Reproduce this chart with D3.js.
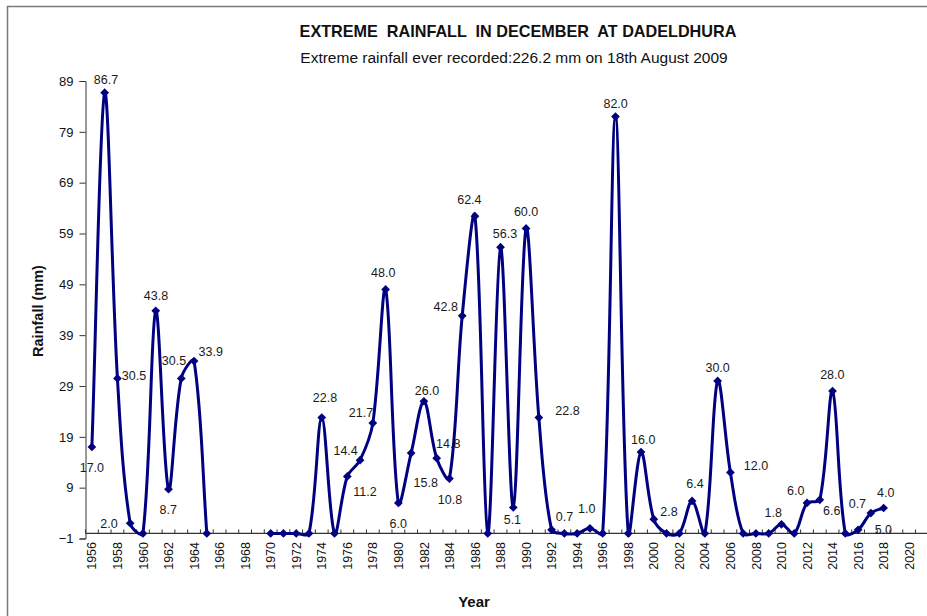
<!DOCTYPE html>
<html>
<head>
<meta charset="utf-8">
<script src="https://cdn.jsdelivr.net/npm/d3@7"></script>
<style>
  html, body { margin: 0; padding: 0; background: #fff; }
  svg { display: block; }
  text { font-family: "Liberation Sans", Arial, sans-serif; }
</style>
</head>
<body>
<svg id="chart" width="927" height="616"></svg>
<script>
// ---------- DATA ----------
const years = d3.range(1956, 2022); // category axis 1956..2021
const dataYears = d3.range(1956, 2019);
const rainfall = [
  17.0, 86.7, 30.5, 2.0, 0, 43.8, 8.7, 30.5, 33.9, 0,      // 1956-1965
  null, null, null, null,                                   // 1966-1969
  0, 0, 0, 0, 22.8, 0, 11.2, 14.4, 21.7, 48.0,              // 1970-1979
  6.0, 15.8, 26.0, 14.8, 10.8, 42.8, 62.4, 0, 56.3, 5.1,    // 1980-1989
  60.0, 22.8, 0.7, 0, 0, 1.0, 0, 82.0, 0, 16.0,             // 1990-1999
  2.8, 0, 0, 6.4, 0, 30.0, 12.0, 0, 0, 0,                   // 2000-2009
  1.8, 0, 6.0, 6.6, 28.0, 0, 0.7, 4.0, 5.0                  // 2010-2018
];
const yTicks = [-1, 9, 19, 29, 39, 49, 59, 69, 79, 89];
const xTickLabels = d3.range(1956, 2021, 2);
const titleText = "EXTREME  RAINFALL  IN DECEMBER  AT DADELDHURA";
const subtitleText = "Extreme rainfall ever recorded:226.2 mm on 18th August 2009";

// label placement offsets (style only): [dx, dy] relative to point
const labelOffsets = {
  1956:[0,20.7],1957:[1.3,-13.4],1958:[16.6,-2.7],1959:[-21.2,0.8],1961:[0.2,-15.1],
  1962:[-0.2,20.8],1963:[-7.3,-17.7],1964:[16.7,-9.4],1974:[3.2,-20.2],1976:[17.7,15.2],
  1977:[-14.4,-9.5],1978:[-11.8,-10.8],1979:[-2.3,-17.1],1980:[-0.1,20.4],1981:[14.6,29.2],
  1982:[3.1,-10.5],1983:[11.6,-14.9],1984:[0.6,20.8],1985:[-16.5,-9.1],1986:[-5.6,-16.2],
  1988:[4.5,-13.2],1989:[-0.9,11.8],1990:[0,-16.7],1991:[28.6,-6.8],1992:[12.8,-13.1],
  1995:[-3.2,-20],1997:[0.2,-13.3],1999:[2.3,-12.1],2000:[15.2,-7.5],2003:[2.9,-16.9],
  2005:[0,-13.6],2006:[25.6,-6.4],2010:[-8.2,-11.6],2012:[-11.3,-12.2],2013:[11.9,10.8],
  2014:[-0.2,-16.1],2016:[-0.7,-26.5],2017:[14.9,-20.8],2018:[-0.3,21.3]
};

// ---------- Excel-like smoothed curve ----------
function ExcelSmooth(context) { this._context = context; }
ExcelSmooth.prototype = {
  areaStart() { this._line = 0; },
  areaEnd() { this._line = NaN; },
  lineStart() { this._pts = []; },
  point(px, py) { this._pts.push([+px, +py]); },
  lineEnd() {
    const p = this._pts, c = this._context, n = p.length;
    if (!n) return;
    c.moveTo(p[0][0], p[0][1]);
    if (n === 1) { c.lineTo(p[0][0], p[0][1]); return; }
    const dist = (a, b) => Math.hypot(b[0] - a[0], b[1] - a[1]);
    for (let i = 0; i < n - 1; i++) {
      const p0 = p[i - 1] || p[i], p1 = p[i], p2 = p[i + 1], p3 = p[i + 2] || p[i + 1];
      const d01 = dist(p0, p1), d12 = dist(p1, p2), d23 = dist(p2, p3);
      const f1 = (d01 + d12) > 0 ? d12 / (d01 + d12) : 0;
      const f2 = (d12 + d23) > 0 ? d12 / (d12 + d23) : 0;
      const c1 = [p1[0] + (p2[0] - p0[0]) * f1 / 3, p1[1] + (p2[1] - p0[1]) * f1 / 3];
      const c2 = [p2[0] - (p3[0] - p1[0]) * f2 / 3, p2[1] - (p3[1] - p1[1]) * f2 / 3];
      c.bezierCurveTo(c1[0], c1[1], c2[0], c2[1], p2[0], p2[1]);
    }
  }
};
const curveExcel = ctx => new ExcelSmooth(ctx);

// ---------- LAYOUT ----------
const svg = d3.select("#chart");
const plotLeft = 85.5, step = 12.77;
const x = d3.scaleBand().domain(years).range([plotLeft, plotLeft + step * years.length]).padding(0);
const y = d3.scaleLinear().domain([-1, 89]).range([538.5, 81]);
const cx = yr => x(yr) + x.bandwidth() / 2;

const navy = "#000080";
const ink = "#111";

// outer chart border
svg.append("rect")
  .attr("x", 7.5).attr("y", 6.5).attr("width", 940).attr("height", 640)
  .attr("fill", "none").attr("stroke", "#7a7a7a").attr("stroke-width", 1.5);

// title
svg.append("text").attr("x", 518).attr("y", 36.5).attr("text-anchor", "middle")
  .attr("font-size", 16.2).attr("font-weight", "bold").attr("fill", ink)
  .attr("xml:space", "preserve").style("white-space", "pre").text(titleText);
svg.append("text").attr("x", 514).attr("y", 63).attr("text-anchor", "middle")
  .attr("font-size", 15.5).attr("fill", ink).text(subtitleText);

// y axis
const yAxis = d3.axisLeft(y).tickValues(yTicks).tickSize(6).tickPadding(6).tickFormat(d3.format("d"));
const gy = svg.append("g").attr("transform", `translate(${plotLeft},0)`).call(yAxis);
gy.select(".domain").attr("stroke", "#333").attr("stroke-width", 1);
gy.selectAll(".tick line").attr("stroke", "#333");
gy.selectAll(".tick text").attr("font-size", 13).attr("fill", ink)
  .attr("font-family", "Liberation Sans, Arial, sans-serif");

// x axis at value 0
const y0 = y(0);
const gx = svg.append("g").attr("transform", `translate(0,${y0})`);
gx.append("line").attr("x1", plotLeft).attr("x2", x.range()[1]).attr("y1", 0).attr("y2", 0)
  .attr("stroke", "#333").attr("stroke-width", 1.2);
gx.selectAll("line.tk").data(years.concat([years[years.length - 1] + 1])).join("line").attr("class", "tk")
  .attr("x1", d => plotLeft + (d - years[0]) * step).attr("x2", d => plotLeft + (d - years[0]) * step)
  .attr("y1", -4).attr("y2", 0).attr("stroke", "#333");
gx.selectAll("text").data(xTickLabels).join("text")
  .attr("transform", d => `translate(${cx(d) + 4.6},${542 - y0}) rotate(-90)`)
  .attr("text-anchor", "end").attr("font-size", 12.5).attr("fill", ink).text(d => d);

// axis titles
svg.append("text").attr("transform", "translate(43,311) rotate(-90)").attr("text-anchor", "middle")
  .attr("font-size", 14.5).attr("font-weight", "bold").attr("fill", ink).text("Rainfall (mm)");
svg.append("text").attr("x", 474).attr("y", 607).attr("text-anchor", "middle")
  .attr("font-size", 15).attr("font-weight", "bold").attr("fill", ink).text("Year");

// series
const pts = dataYears.map((yr, i) => ({ year: yr, value: rainfall[i] }));
const line = d3.line()
  .defined(d => d.value !== null)
  .x(d => cx(d.year)).y(d => y(d.value))
  .curve(curveExcel);
svg.append("path").datum(pts).attr("d", line)
  .attr("fill", "none").attr("stroke", navy).attr("stroke-width", 3).attr("stroke-linejoin", "round");

const sym = d3.symbol(d3.symbolSquare, 38);
svg.append("g").selectAll("path").data(pts.filter(d => d.value !== null)).join("path")
  .attr("d", sym)
  .attr("transform", d => `translate(${cx(d.year)},${y(d.value)}) rotate(45)`)
  .attr("fill", navy);

// data labels (non-zero values)
svg.append("g").selectAll("text").data(pts.filter(d => d.value)).join("text")
  .attr("x", d => cx(d.year) + (labelOffsets[d.year] || [0, -14])[0])
  .attr("y", d => y(d.value) + (labelOffsets[d.year] || [0, -14])[1])
  .attr("dy", "0.35em").attr("text-anchor", "middle")
  .attr("font-size", 12.5).attr("fill", "#1a1a1a")
  .text(d => d.value.toFixed(1));
</script>
</body>
</html>
